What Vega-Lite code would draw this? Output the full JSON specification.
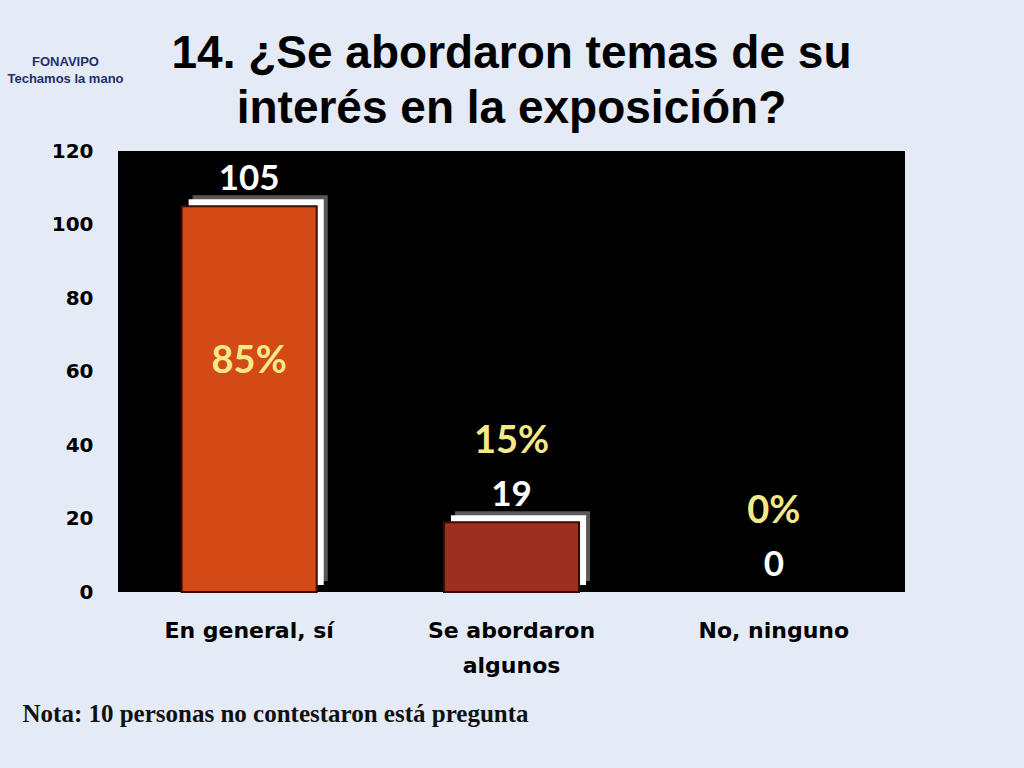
{
  "$schema": "https://vega.github.io/schema/vega-lite/v6.json",
  "width": 787,
  "height": 441,
  "autosize": {"type": "none"},
  "padding": {"left": 118, "top": 151, "right": 119, "bottom": 176},
  "background": "#E4EAF6",
  "view": {"fill": "#000000", "stroke": null},
  "title": {
    "text": ["14. ¿Se abordaron temas de su", "interés en la exposición?"],
    "font": "Liberation Sans",
    "fontSize": 46,
    "fontWeight": "bold",
    "color": "#000000",
    "anchor": "middle",
    "frame": "group",
    "lineHeight": 55,
    "offset": 18,
    "dy": 96
  },
  "data": {
    "values": [
      {"respuesta": "En general, sí", "personas": 105, "porcentaje": "85%"},
      {"respuesta": "Se abordaron algunos", "personas": 19, "porcentaje": "15%"},
      {"respuesta": "No, ninguno", "personas": 0, "porcentaje": "0%"}
    ]
  },
  "encoding": {
    "x": {
      "field": "respuesta",
      "type": "nominal",
      "sort": null,
      "scale": {"paddingInner": 0.485, "paddingOuter": 0.2425},
      "axis": {
        "labelAngle": 0,
        "labelFont": "DejaVu Sans",
        "labelFontSize": 22,
        "labelFontWeight": "bold",
        "labelColor": "#000000",
        "labelPadding": 28,
        "labelLineHeight": 35,
        "labelBaseline": "top",
        "labelExpr": "datum.value == 'Se abordaron algunos' ? ['Se abordaron', 'algunos'] : datum.value",
        "ticks": false,
        "domain": false,
        "grid": false,
        "title": "Nota: 10 personas no contestaron está pregunta",
        "titleFont": "Liberation Serif",
        "titleFontSize": 25,
        "titleFontWeight": "bold",
        "titleColor": "#111111",
        "titleAnchor": "start",
        "titleAlign": "left",
        "titleBaseline": "alphabetic",
        "titleX": -96,
        "titleY": 129
      }
    },
    "y": {
      "field": "personas",
      "type": "quantitative",
      "scale": {"domain": [0, 120]},
      "axis": {
        "values": [0, 20, 40, 60, 80, 100, 120],
        "labelFont": "DejaVu Sans",
        "labelFontSize": 20,
        "labelFontWeight": "bold",
        "labelColor": "#000000",
        "labelPadding": 25,
        "ticks": false,
        "domain": false,
        "grid": false,
        "title": ["FONAVIPO", "Techamos la mano"],
        "titleFont": "Liberation Sans",
        "titleFontSize": 13,
        "titleFontWeight": "bold",
        "titleColor": "#1F2F6B",
        "titleAngle": 0,
        "titleAlign": "center",
        "titleBaseline": "alphabetic",
        "titleLineHeight": 17,
        "titleX": -53,
        "titleY": -86
      }
    }
  },
  "layer": [
    {
      "transform": [{"filter": "datum.personas > 0"}],
      "mark": {"type": "bar", "color": "#FFFFFF", "opacity": 0.35, "xOffset": 11, "yOffset": -11, "y2Offset": 0},
      "encoding": {}
    },
    {
      "transform": [{"filter": "datum.personas > 0"}],
      "mark": {"type": "bar", "color": "#FFFFFF", "xOffset": 7, "yOffset": -7, "y2Offset": 0},
      "encoding": {}
    },
    {
      "transform": [{"filter": "datum.personas > 0"}],
      "mark": {"type": "bar", "stroke": "#3A0A04", "strokeWidth": 2},
      "encoding": {
        "color": {
          "field": "respuesta",
          "type": "nominal",
          "scale": {
            "domain": ["En general, sí", "Se abordaron algunos", "No, ninguno"],
            "range": ["#D34A17", "#9C2F20", "#9C2F20"]
          },
          "legend": null
        }
      }
    },
    {
      "mark": {"type": "text", "font": "Lato", "fontSize": 35, "fontWeight": "bold", "color": "#FFFFFF", "baseline": "middle", "dy": -27},
      "encoding": {"text": {"field": "personas", "type": "quantitative"}}
    },
    {
      "transform": [{"filter": "datum.personas < 50"}],
      "mark": {"type": "text", "font": "Lato", "fontSize": 38, "fontWeight": "bold", "color": "#F4E98A", "baseline": "middle", "dy": -80},
      "encoding": {"text": {"field": "porcentaje", "type": "nominal"}}
    },
    {
      "transform": [{"filter": "datum.personas >= 50"}],
      "mark": {"type": "text", "font": "Lato", "fontSize": 38, "fontWeight": "bold", "color": "#F4E98A", "baseline": "middle", "dy": 156},
      "encoding": {"text": {"field": "porcentaje", "type": "nominal"}}
    }
  ]
}
